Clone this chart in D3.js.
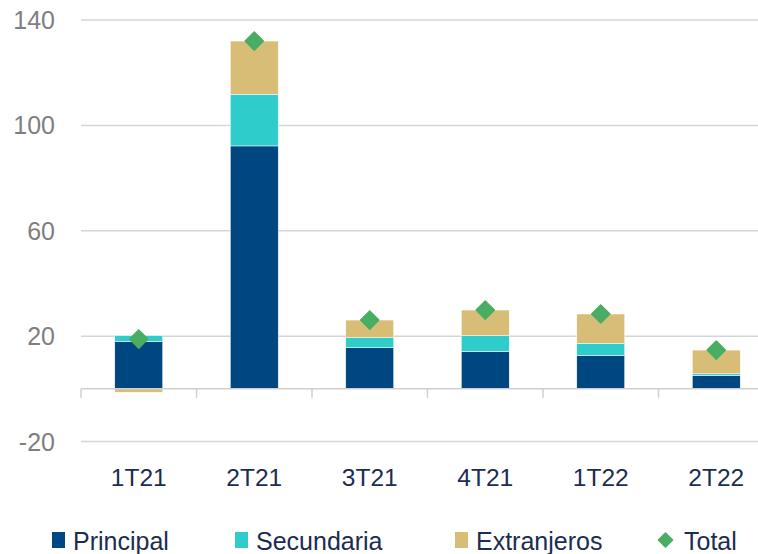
<!DOCTYPE html>
<html lang="es">
<head>
  <meta charset="UTF-8">
  <title>Chart</title>
  <script src="https://cdn.jsdelivr.net/npm/d3@7/dist/d3.min.js"></script>
  <style>
    html, body { margin: 0; padding: 0; background: #fff; }
    svg { display: block; font-family: "Liberation Sans", Arial, sans-serif; }
  </style>
</head>
<body>
  <svg id="chart" width="758" height="554"></svg>
  <script>
    const categories = ['1T21', '2T21', '3T21', '4T21', '1T22', '2T22'];
    const principal = [18.0, 92.2, 15.6, 14.2, 12.7, 5.1];
    const secundaria = [2.2, 19.6, 3.8, 6.0, 4.6, 0.6];
    const extranjeros = [-1.3, 20.2, 6.7, 9.7, 11.1, 9.0];
    const total = [18.9, 132.0, 26.1, 29.9, 28.4, 14.7];
    const yTicks = [-20, 20, 60, 100, 140];

    const seriesNames = ['Principal', 'Secundaria', 'Extranjeros'];
    const colors = { Principal: '#004680', Secundaria: '#2ecdcb', Extranjeros: '#d7bd76', Total: '#49ad63' };

    const rows = categories.map((c, i) => ({
      cat: c, Principal: principal[i], Secundaria: secundaria[i], Extranjeros: extranjeros[i], Total: total[i]
    }));

    const svg = d3.select('#chart');

    const x = d3.scaleBand().domain(categories).range([81, 774])
      .paddingInner(0.585).paddingOuter(0.2925);
    const y = d3.scaleLinear().domain([-20, 140]).range([441.5, 20]);
    const step = x.step();

    // gridlines
    svg.append('g').selectAll('line').data(yTicks).join('line')
      .attr('x1', 81).attr('x2', 774)
      .attr('y1', d => y(d)).attr('y2', d => y(d))
      .attr('stroke', '#d6d6d6').attr('stroke-width', 1.5);

    // y labels
    svg.append('g').selectAll('text').data(yTicks).join('text')
      .attr('x', 55).attr('y', d => y(d) + 9)
      .attr('text-anchor', 'end')
      .attr('font-size', 25).attr('fill', '#7f7f7f')
      .text(d => d);

    // stacked bars
    const stacked = d3.stack().keys(seriesNames).offset(d3.stackOffsetDiverging)(rows);
    svg.append('g').selectAll('g').data(stacked).join('g')
      .attr('fill', d => colors[d.key])
      .selectAll('rect').data(d => d).join('rect')
      .attr('x', d => x(d.data.cat))
      .attr('width', x.bandwidth())
      .attr('y', d => y(Math.max(d[0], d[1])))
      .attr('height', d => Math.abs(y(d[0]) - y(d[1])))
      .attr('stroke', '#ffffff').attr('stroke-width', 0.5);

    // zero axis and ticks
    const axis = svg.append('g').attr('stroke', '#d0d0d0').attr('stroke-width', 1.5);
    axis.append('line').attr('x1', 81).attr('x2', 774).attr('y1', y(0)).attr('y2', y(0));
    const bounds = categories.map(c => x(c) + x.bandwidth() / 2 - step / 2);
    axis.selectAll('line.tick').data(bounds).join('line').attr('class', 'tick')
      .attr('x1', d => d).attr('x2', d => d)
      .attr('y1', y(0)).attr('y2', y(0) + 9);

    // total diamonds
    const diamond = d3.symbol().type(d3.symbolSquare).size(165);
    svg.append('g').selectAll('path').data(rows).join('path')
      .attr('d', diamond)
      .attr('transform', d => `translate(${x(d.cat) + x.bandwidth() / 2},${y(d.Total)}) rotate(45)`)
      .attr('fill', colors.Total)
      .attr('stroke', colors.Total).attr('stroke-width', 1.5).attr('stroke-linejoin', 'round');

    // x labels
    svg.append('g').selectAll('text').data(categories).join('text')
      .attr('x', d => x(d) + x.bandwidth() / 2)
      .attr('y', 485.5)
      .attr('text-anchor', 'middle')
      .attr('font-size', 24.5).attr('fill', '#1b2d50')
      .text(d => d);

    // legend
    const legendItems = [
      { name: 'Principal', x: 52 },
      { name: 'Secundaria', x: 235 },
      { name: 'Extranjeros', x: 455 },
      { name: 'Total', x: 658 }
    ];
    const lg = svg.append('g').selectAll('g').data(legendItems).join('g')
      .attr('transform', d => `translate(${d.x},0)`);
    lg.filter(d => d.name !== 'Total').append('rect')
      .attr('x', 0).attr('y', 532).attr('width', 13).attr('height', 16)
      .attr('fill', d => colors[d.name]);
    lg.filter(d => d.name === 'Total').append('path')
      .attr('d', d3.symbol().type(d3.symbolSquare).size(100))
      .attr('transform', 'translate(7.5,540) rotate(45)')
      .attr('fill', colors.Total)
      .attr('stroke', colors.Total).attr('stroke-width', 1.5).attr('stroke-linejoin', 'round');
    lg.append('text')
      .attr('x', d => d.name === 'Total' ? 26 : 21)
      .attr('y', 549.5)
      .attr('font-size', 25).attr('fill', '#1b2d50')
      .text(d => d.name);
  </script>
</body>
</html>
